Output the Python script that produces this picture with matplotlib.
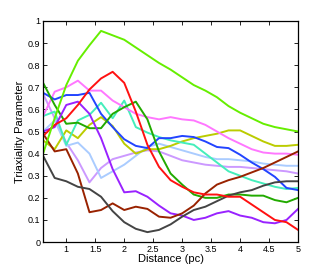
import numpy as np
import matplotlib
matplotlib.use('Agg')
import matplotlib.pyplot as plt

plt.rcParams['font.family'] = ['Liberation Sans', 'DejaVu Sans']

# distance grid (pc)
dist = np.arange(0.6, 5.01, 0.2)

# triaxiality curves
lime = [0.40, 0.56, 0.71, 0.82, 0.89, 0.955, 0.935, 0.915, 0.88, 0.845, 0.81, 0.78,
        0.745, 0.71, 0.685, 0.655, 0.615, 0.585, 0.56, 0.535, 0.52, 0.51, 0.50]
red = [0.48, 0.53, 0.56, 0.62, 0.69, 0.74, 0.77, 0.72, 0.59, 0.44, 0.34, 0.28,
       0.25, 0.225, 0.215, 0.215, 0.205, 0.205, 0.17, 0.135, 0.10, 0.09, 0.055]
pink = [0.57, 0.68, 0.70, 0.73, 0.685, 0.685, 0.64, 0.61, 0.58, 0.565, 0.555, 0.565,
        0.555, 0.55, 0.53, 0.50, 0.47, 0.445, 0.42, 0.405, 0.40, 0.40, 0.395]
blue = [0.675, 0.645, 0.665, 0.665, 0.675, 0.58, 0.52, 0.465, 0.435, 0.425, 0.47, 0.47,
        0.48, 0.475, 0.455, 0.43, 0.425, 0.395, 0.36, 0.33, 0.295, 0.245, 0.235]
dgreen = [0.72, 0.62, 0.535, 0.54, 0.515, 0.515, 0.58, 0.61, 0.635, 0.555, 0.41, 0.31,
          0.26, 0.215, 0.20, 0.20, 0.215, 0.215, 0.21, 0.21, 0.19, 0.18, 0.20]
aqua = [0.57, 0.59, 0.44, 0.55, 0.575, 0.63, 0.56, 0.64, 0.52, 0.495, 0.475, 0.46,
        0.45, 0.44, 0.40, 0.36, 0.32, 0.30, 0.28, 0.265, 0.25, 0.24, 0.245]
olive = [0.46, 0.42, 0.505, 0.47, 0.53, 0.565, 0.525, 0.445, 0.40, 0.42, 0.42, 0.435,
         0.455, 0.47, 0.48, 0.49, 0.505, 0.505, 0.48, 0.455, 0.435, 0.435, 0.44]
purple = [0.50, 0.52, 0.62, 0.635, 0.58, 0.47, 0.33, 0.225, 0.23, 0.205, 0.165, 0.13,
          0.12, 0.10, 0.11, 0.13, 0.14, 0.12, 0.11, 0.09, 0.085, 0.10, 0.15]
lblue = [0.50, 0.55, 0.435, 0.45, 0.40, 0.29, 0.32, 0.35, 0.39, 0.43, 0.445, 0.43,
         0.415, 0.40, 0.385, 0.375, 0.375, 0.37, 0.365, 0.355, 0.35, 0.345, 0.345]
lavender = [0.67, 0.56, 0.45, 0.37, 0.27, 0.335, 0.375, 0.39, 0.405, 0.415, 0.41, 0.39,
            0.37, 0.36, 0.35, 0.345, 0.34, 0.34, 0.335, 0.33, 0.325, 0.32, 0.31]
brown = [0.49, 0.41, 0.42, 0.31, 0.135, 0.145, 0.175, 0.145, 0.16, 0.15, 0.115, 0.11,
         0.13, 0.165, 0.22, 0.26, 0.28, 0.295, 0.315, 0.335, 0.36, 0.385, 0.41]
grey = [0.39, 0.29, 0.275, 0.25, 0.24, 0.205, 0.14, 0.09, 0.06, 0.045, 0.055, 0.08,
        0.115, 0.145, 0.16, 0.185, 0.21, 0.225, 0.235, 0.255, 0.27, 0.275, 0.275]

series = [
    (lavender, '#cc99ff'), (lblue, '#aaccff'), (olive, '#bbcc00'), (aqua, '#44eebb'),
    (pink, '#ff77ff'), (blue, '#2244ff'), (dgreen, '#22aa00'), (purple, '#9922ff'),
    (brown, '#992200'), (grey, '#444444'), (red, '#ff1111'), (lime, '#66ee00'),
]

fig = plt.figure(figsize=(3.29, 2.72), dpi=100)
ax = fig.add_axes([0.131, 0.110, 0.775, 0.813])

for ys, c in series:
    ax.plot(dist, ys, color=c, lw=1.4)

ax.set_xlim(0.6, 5)
ax.set_ylim(0, 1)
ax.set_xticks(np.arange(1, 5.01, 0.5))
ax.set_xticklabels(['1', '1.5', '2', '2.5', '3', '3.5', '4', '4.5', '5'])
ax.set_yticks(np.arange(0, 1.01, 0.1))
ax.set_yticklabels(['0', '0.1', '0.2', '0.3', '0.4', '0.5', '0.6', '0.7', '0.8', '0.9', '1'])
ax.tick_params(direction='in', top=True, right=True, labelsize=6.5, length=3, width=0.6, pad=2)
for s in ax.spines.values():
    s.set_linewidth(0.9)

ax.set_xlabel('Distance (pc)', fontsize=8, labelpad=0)
ax.set_ylabel('Triaxiality Parameter', fontsize=8, labelpad=2)

fig.savefig('out.png', dpi=100)
